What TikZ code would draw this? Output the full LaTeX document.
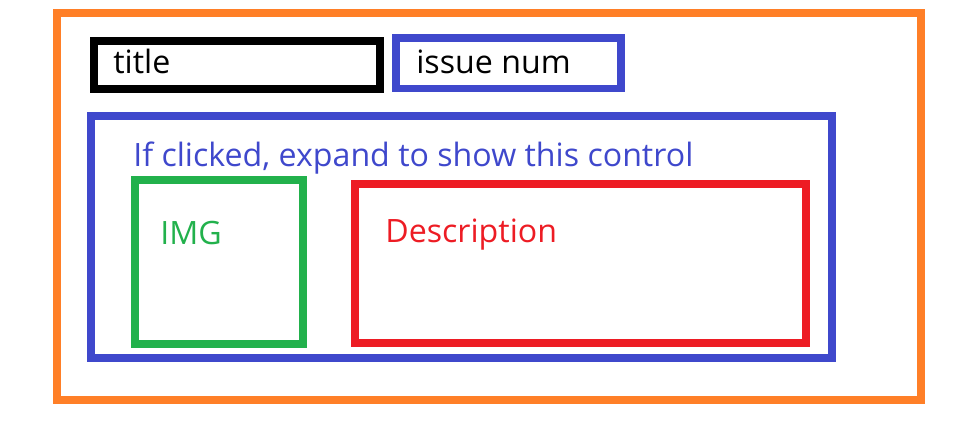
\documentclass[tikz,border=0pt]{standalone}
\usepackage{fontspec}
\setmainfont{Open Sans}
\usepackage{tikz}
\usetikzlibrary{positioning}
\definecolor{paintorange}{HTML}{FF7F27}
\definecolor{paintblue}{HTML}{3F48CC}
\definecolor{paintgreen}{HTML}{22B14C}
\definecolor{paintred}{HTML}{ED1C24}
\tikzstyle{frame} = [draw, rectangle, line width=0.16cm, inner sep=0pt, outer sep=0pt]
\tikzstyle{caption} = [anchor=base west, inner sep=0pt, font=\fontsize{18.3}{22}\selectfont]

\begin{document}
\begin{tikzpicture}[x=0.02cm, y=-0.02cm]
    \useasboundingbox (0,0) rectangle (968,437);
    % We start by placing the frames
    \node [frame, paintorange, minimum width=17.28cm, minimum height=7.74cm] (card) at (489,206.5) {};
    \node [frame, black, minimum width=5.72cm, minimum height=0.95cm] (title) at (237,64.75) {};
    \node [frame, paintblue, minimum width=4.5cm, minimum height=1.01cm] (issue) at (508.5,63.25) {};
    \node [frame, paintblue, minimum width=14.82cm, minimum height=4.84cm] (expand) at (461.5,237) {};
    \node [frame, paintgreen, minimum width=3.36cm, minimum height=3.28cm] (img) at (219,262) {};
    \node [frame, paintred, minimum width=9.02cm, minimum height=3.18cm] (desc) at (580.5,263.5) {};

    % then the texts
    \node [caption, black] (titletext) at (113,73) {title};
    \node [caption, black] (issuetext) at (416,73) {issue num};
    \node [caption, paintblue] (expandtext) at (133,166) {If clicked, expand to show this control};
    \node [caption, paintgreen] (imgtext) at (160,244) {IMG};
    \node [caption, paintred] (desctext) at (385,242) {Description};
\end{tikzpicture}
\end{document}
